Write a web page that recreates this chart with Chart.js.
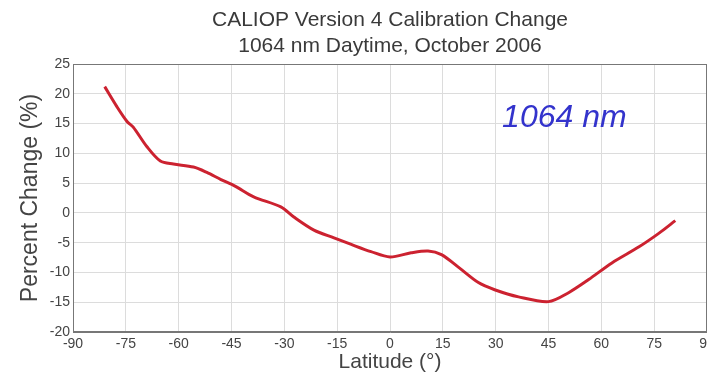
<!DOCTYPE html>
<html>
<head>
<meta charset="utf-8">
<script src="https://cdn.jsdelivr.net/npm/chart.js@4"></script>
<style>
  body { margin: 0; background: #fff; }
  canvas { display: block; }
</style>
</head>
<body>
<canvas id="calChart" width="707" height="373"></canvas>
<script>
// values
const latitudes = [-81, -77.5, -74.6, -72.9, -69, -65.2, -61.5, -55.8, -52, -48, -44, -38.7, -31, -27.3,
    -21.6, -15.9, -11, -5.4, 0, 6, 10.8, 14.6, 19.4, 25.1, 29.7, 36.5, 45, 50.7, 56.4, 63, 70.7, 76.4, 81];
const percentChange = [21.2, 17.8, 15.3, 14.4, 11.1, 8.7, 8.2, 7.7, 6.8, 5.6, 4.5, 2.7, 1.0, -0.7,
    -2.9, -4.2, -5.3, -6.5, -7.4, -6.7, -6.4, -7.0, -9.1, -11.7, -12.9, -14.1, -14.9, -13.4, -11.2, -8.4, -5.7, -3.4, -1.3];
const titleLines = ['CALIOP Version 4 Calibration Change', '1064 nm Daytime, October 2006'];
const bandLabel = '1064 nm';

const FONT = 'Arial, "Liberation Sans", Helvetica, sans-serif';

// draws the plot frame and the wavelength label
const extrasPlugin = {
    id: 'extras',
    afterDraw(chart) {
        const { ctx, chartArea, scales } = chart;
        ctx.save();
        ctx.strokeStyle = '#777';
        ctx.lineWidth = 1;
        ctx.strokeRect(chartArea.left + 0.5, chartArea.top + 0.5,
            chartArea.right - chartArea.left - 1, chartArea.bottom - chartArea.top - 1);

        ctx.font = 'italic 32px ' + FONT;
        ctx.fillStyle = '#3333cc';
        ctx.textAlign = 'center';
        ctx.textBaseline = 'middle';
        ctx.fillText(bandLabel, scales.x.getPixelForValue(49.5), scales.y.getPixelForValue(16.0));
        ctx.restore();
    }
};

new Chart(document.getElementById('calChart'), {
    type: 'line',
    data: {
        datasets: [{
            data: latitudes.map((x, i) => ({ x: x, y: percentChange[i] })),
            borderColor: '#cc2230',
            borderWidth: 3,
            pointRadius: 0,
            tension: 0.3,
            fill: false
        }]
    },
    options: {
        responsive: false,
        animation: false,
        devicePixelRatio: 1,
        layout: { padding: 0 },
        plugins: {
            legend: { display: false },
            tooltip: { enabled: false },
            title: {
                display: true,
                fullSize: false,
                text: titleLines,
                color: '#3a3a3a',
                font: { family: FONT, size: 21, weight: 'normal', lineHeight: 1.2 },
                padding: { top: 8, bottom: 5.6 }
            }
        },
        scales: {
            x: {
                type: 'linear',
                min: -90,
                max: 90,
                ticks: {
                    stepSize: 15,
                    color: '#444',
                    padding: 4,
                    maxRotation: 0,
                    font: { family: FONT, size: 14 }
                },
                grid: { color: '#dcdcdc', drawTicks: false },
                border: { color: '#777' },
                title: {
                    display: true,
                    text: 'Latitude (°)',
                    color: '#444',
                    font: { family: FONT, size: 21, lineHeight: 1 },
                    padding: { top: 0, bottom: 0 }
                },
                afterFit(scale) {
                    scale.height = 41;
                    scale.paddingLeft = 0;
                    scale.paddingRight = 0;
                }
            },
            y: {
                min: -20,
                max: 25,
                ticks: {
                    stepSize: 5,
                    color: '#444',
                    padding: 3,
                    font: { family: FONT, size: 14 }
                },
                grid: { color: '#dcdcdc', drawTicks: false },
                border: { color: '#777' },
                title: {
                    display: true,
                    text: 'Percent Change (%)',
                    color: '#444',
                    font: { family: FONT, size: 23, lineHeight: 1.2 },
                    padding: { top: 17, bottom: 0 }
                },
                afterFit(scale) {
                    scale.width = 73;
                    scale.paddingTop = 0;
                    scale.paddingBottom = 0;
                }
            }
        }
    },
    plugins: [extrasPlugin]
});
</script>
</body>
</html>
